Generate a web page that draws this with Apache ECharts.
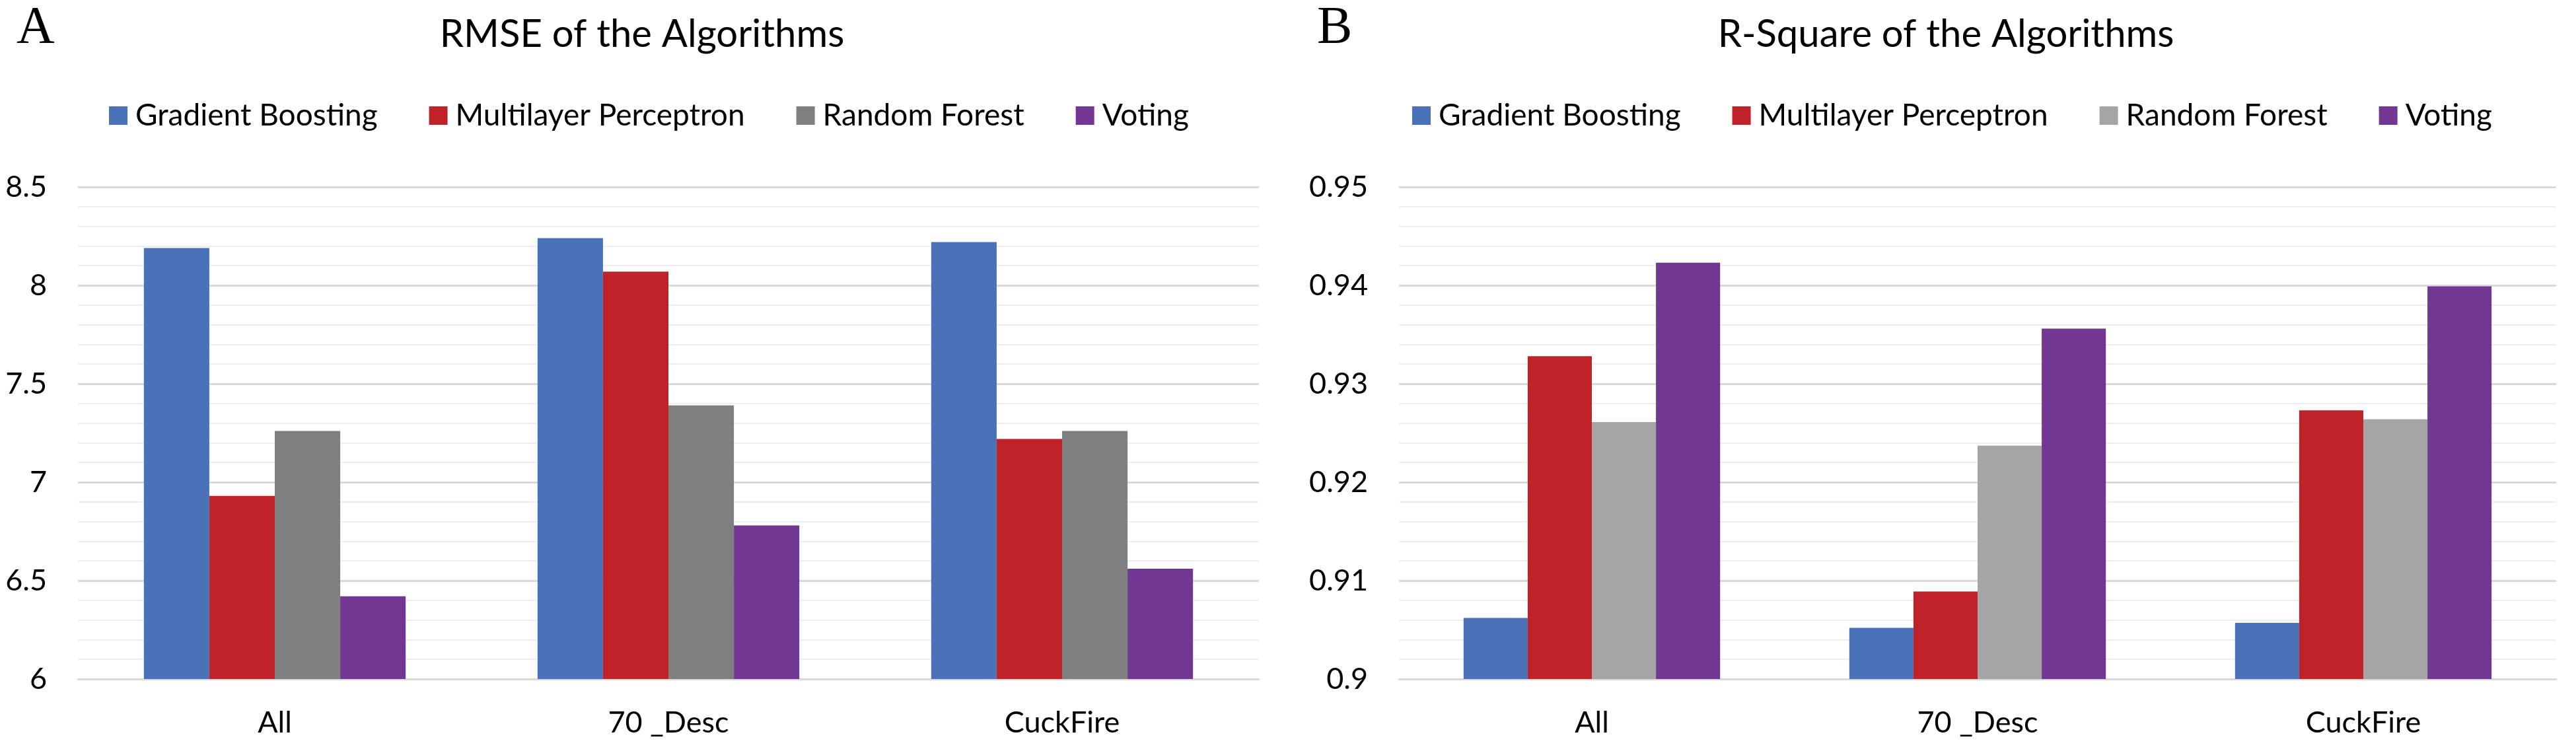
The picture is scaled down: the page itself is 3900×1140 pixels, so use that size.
<!DOCTYPE html>
<html>
<head>
<meta charset="utf-8">
<script src="https://cdn.jsdelivr.net/npm/echarts@6/dist/echarts.min.js"></script>
<style>
html,body{margin:0;padding:0;background:#fff;}
#chart{width:3900px;height:1140px;}
</style>
</head>
<body>
<div id="chart"></div>
<script>
const categories = ['All', '70 _Desc', 'CuckFire'];
const seriesNames = ['Gradient Boosting', 'Multilayer Perceptron', 'Random Forest', 'Voting'];

// RMSE (panel A)
const rmseGradientBoosting = [8.19, 8.24, 8.22];
const rmseMultilayerPerceptron = [6.93, 8.07, 7.22];
const rmseRandomForest = [7.26, 7.39, 7.26];
const rmseVoting = [6.42, 6.78, 6.56];

// R-Square (panel B)
const rsqGradientBoosting = [0.9062, 0.9052, 0.9057];
const rsqMultilayerPerceptron = [0.9328, 0.9089, 0.9273];
const rsqRandomForest = [0.9261, 0.9237, 0.9264];
const rsqVoting = [0.9423, 0.9356, 0.9399];

const rmseTicks = {min: 6, max: 8.5, interval: 0.5};
const rsqTicks = {min: 0.9, max: 0.95, interval: 0.01};

const panelTitles = ['RMSE of the Algorithms', 'R-Square of the Algorithms'];
const panelLetters = ['A', 'B'];

const colorsA = ['#4A72B8', '#C0222A', '#7F7F7F', '#713793'];
const colorsB = ['#4A72B8', '#C0222A', '#A5A5A5', '#713793'];

const FONT = 'Lato';

function yAxisCfg(idx, t) {
  return {
    type: 'value', gridIndex: idx, min: t.min, max: t.max, interval: t.interval,
    axisLine: {show: false}, axisTick: {show: false},
    axisLabel: {fontFamily: FONT, fontSize: 45, color: '#000', margin: 47,
      formatter: v => String(+v.toFixed(3))},
    splitLine: {show: true, lineStyle: {color: '#d9d9d9', width: 3}},
    minorTick: {show: false, splitNumber: 5},
    minorSplitLine: {show: true, lineStyle: {color: '#eeeeee', width: 2}}
  };
}
function xAxisCfg(idx) {
  return {
    type: 'category', gridIndex: idx, data: categories,
    axisLine: {show: true, lineStyle: {color: '#d9d9d9', width: 3}},
    axisTick: {show: false},
    axisLabel: {fontFamily: FONT, fontSize: 45, color: '#000', margin: 44}
  };
}
const dataA = [rmseGradientBoosting, rmseMultilayerPerceptron, rmseRandomForest, rmseVoting];
const dataB = [rsqGradientBoosting, rsqMultilayerPerceptron, rsqRandomForest, rsqVoting];

const series = [];
seriesNames.forEach((n, i) => {
  series.push({name: n, type: 'bar', xAxisIndex: 0, yAxisIndex: 0, data: dataA[i],
    itemStyle: {color: colorsA[i]}, barGap: '0%', barCategoryGap: '33.5%'});
});
seriesNames.forEach((n, i) => {
  series.push({name: n, type: 'bar', xAxisIndex: 1, yAxisIndex: 1, data: dataB[i],
    itemStyle: {color: colorsB[i]}, barGap: '0%', barCategoryGap: '33.5%'});
});

function legendCfg(left, colors) {
  return {
    left: left, top: 152, padding: 0, itemWidth: 28, itemHeight: 28, itemGap: 78,
    icon: 'rect', selectedMode: false,
    textStyle: {fontFamily: FONT, fontSize: 46, color: '#000', lineHeight: 46, padding: [0, 0, 0, 7]},
    data: seriesNames.map((n, i) => ({name: n, itemStyle: {color: colors[i]}}))
  };
}

const chart = echarts.init(document.getElementById('chart'), null, {renderer: 'canvas'});
chart.setOption({
  backgroundColor: '#fff',
  animation: false,
  grid: [
    {left: 118, top: 283, width: 1788, height: 745},
    {left: 2118, top: 283, width: 1752, height: 745}
  ],
  xAxis: [xAxisCfg(0), xAxisCfg(1)],
  yAxis: [yAxisCfg(0, rmseTicks), yAxisCfg(1, rsqTicks)],
  legend: [legendCfg(165, colorsA), legendCfg(2138, colorsB)],
  graphic: [
    {type: 'text', left: 25, top: 4, style: {text: panelLetters[0], font: '80px "Liberation Serif"', fill: '#000'}},
    {type: 'text', left: 1994, top: 4, style: {text: panelLetters[1], font: '80px "Liberation Serif"', fill: '#000'}},
    {type: 'text', x: 972, y: 52, style: {text: panelTitles[0], font: '58px Lato', fill: '#000', textAlign: 'center', textVerticalAlign: 'middle'}},
    {type: 'text', x: 2946, y: 52, style: {text: panelTitles[1], font: '58px Lato', fill: '#000', textAlign: 'center', textVerticalAlign: 'middle'}}
  ],
  series: series
});
</script>
</body>
</html>
